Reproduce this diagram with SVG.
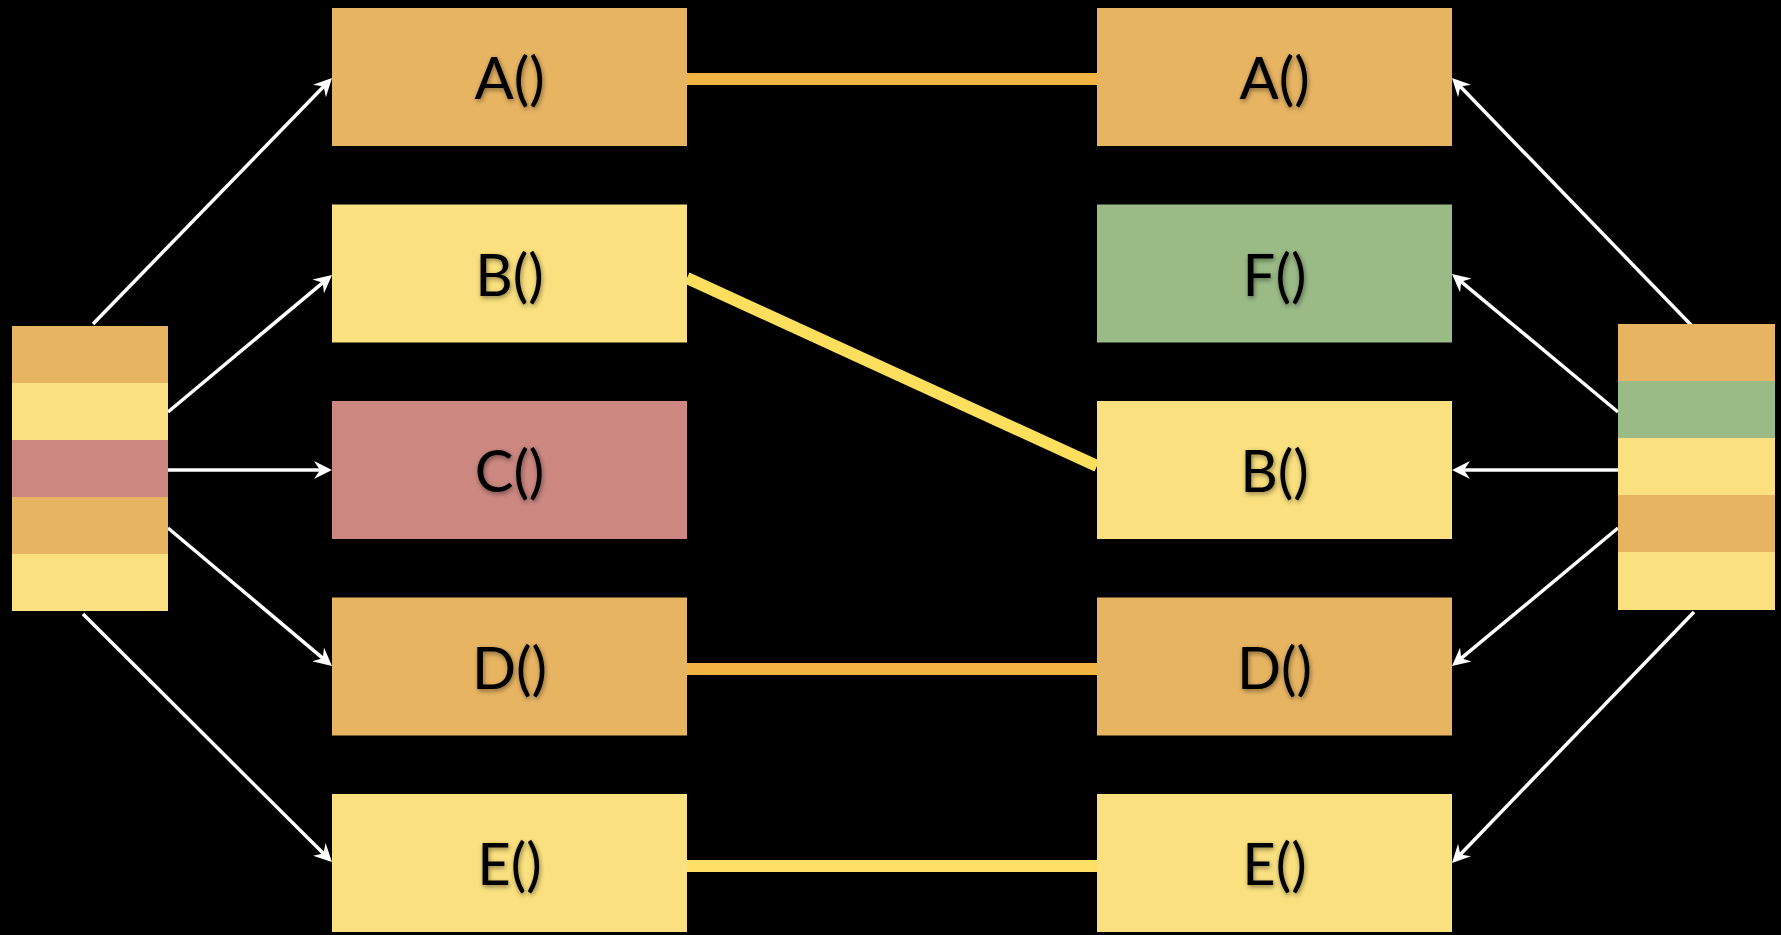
<svg xmlns="http://www.w3.org/2000/svg" width="1781" height="935" viewBox="0 0 1781 935">
  <style>
    .orange { fill: #E7B462; }
    .yellow { fill: #FAE07E; }
    .pink { fill: #CC8781; }
    .green { fill: #9ABA86; }
    .label { font-family: Lato, "Open Sans", "Liberation Sans", sans-serif; font-size: 58px; fill: #000; text-anchor: middle; filter: url(#glow); }
    .arrow { stroke: #FFFFFF; stroke-width: 3.5; fill: none; marker-end: url(#head); }
    .link { fill: none; stroke-width: 12; }
  </style>
  <defs>
    <marker id="head" markerUnits="userSpaceOnUse" markerWidth="18" markerHeight="18" refX="12" refY="9" orient="auto" viewBox="0 0 18 18">
      <path d="M0,0 L18,9 L0,18 L6,9 Z" fill="#FFFFFF"/>
    </marker>
    <filter id="glow" x="-20%" y="-20%" width="140%" height="140%">
      <feGaussianBlur in="SourceAlpha" stdDeviation="2.5" result="b"/>
      <feOffset in="b" dx="1" dy="2" result="o"/>
      <feComponentTransfer in="o" result="s"><feFuncA type="linear" slope="0.45"/></feComponentTransfer>
      <feMerge><feMergeNode in="s"/><feMergeNode in="SourceGraphic"/></feMerge>
    </filter>
  </defs>
  <rect width="1781" height="935" fill="#000000"/>

  <g id="connectors">
    <line class="link" x1="687" y1="79" x2="1097" y2="79" stroke="#F2B544"/>
    <line class="link" x1="687" y1="278" x2="1097" y2="466" stroke="#FDDF5E"/>
    <line class="link" x1="687" y1="669" x2="1097" y2="669" stroke="#F2B544"/>
    <line class="link" x1="687" y1="866" x2="1097" y2="866" stroke="#FFE066"/>
    <line class="arrow" x1="93" y1="324" x2="327.8" y2="82.3"/>
    <line class="arrow" x1="168" y1="412" x2="327.4" y2="278.8"/>
    <line class="arrow" x1="168" y1="470" x2="326" y2="470"/>
    <line class="arrow" x1="168" y1="528" x2="327.4" y2="662.1"/>
    <line class="arrow" x1="83" y1="614" x2="327.7" y2="857.8"/>
    <line class="arrow" x1="1694" y1="328" x2="1456.2" y2="82.3"/>
    <line class="arrow" x1="1618" y1="412" x2="1456.6" y2="277.8"/>
    <line class="arrow" x1="1618" y1="470" x2="1458" y2="470"/>
    <line class="arrow" x1="1618" y1="528" x2="1456.6" y2="662.2"/>
    <line class="arrow" x1="1694" y1="612" x2="1456.2" y2="858.7"/>
  </g>

  <g id="left-stack">
    <rect class="orange" x="12" y="326" width="156" height="57"/>
    <rect class="yellow" x="12" y="383" width="156" height="57"/>
    <rect class="pink" x="12" y="440" width="156" height="57"/>
    <rect class="orange" x="12" y="497" width="156" height="57"/>
    <rect class="yellow" x="12" y="554" width="156" height="57"/>
  </g>

  <g id="right-stack">
    <rect class="orange" x="1618" y="324" width="157" height="57"/>
    <rect class="green" x="1618" y="381" width="157" height="57"/>
    <rect class="yellow" x="1618" y="438" width="157" height="57"/>
    <rect class="orange" x="1618" y="495" width="157" height="57"/>
    <rect class="yellow" x="1618" y="552" width="157" height="58"/>
  </g>

  <g id="left-A"><rect class="orange" x="332" y="8" width="355" height="138"/><text class="label" x="509.5" y="99">A()</text></g>
  <g id="left-B"><rect class="yellow" x="332" y="204.5" width="355" height="138"/><text class="label" x="509.5" y="295.5">B()</text></g>
  <g id="left-C"><rect class="pink" x="332" y="401" width="355" height="138"/><text class="label" x="509.5" y="492">C()</text></g>
  <g id="left-D"><rect class="orange" x="332" y="597.5" width="355" height="138"/><text class="label" x="509.5" y="688.5">D()</text></g>
  <g id="left-E"><rect class="yellow" x="332" y="794" width="355" height="138"/><text class="label" x="509.5" y="885">E()</text></g>

  <g id="right-A"><rect class="orange" x="1097" y="8" width="355" height="138"/><text class="label" x="1274.5" y="99">A()</text></g>
  <g id="right-F"><rect class="green" x="1097" y="204.5" width="355" height="138"/><text class="label" x="1274.5" y="295.5">F()</text></g>
  <g id="right-B"><rect class="yellow" x="1097" y="401" width="355" height="138"/><text class="label" x="1274.5" y="492">B()</text></g>
  <g id="right-D"><rect class="orange" x="1097" y="597.5" width="355" height="138"/><text class="label" x="1274.5" y="688.5">D()</text></g>
  <g id="right-E"><rect class="yellow" x="1097" y="794" width="355" height="138"/><text class="label" x="1274.5" y="885">E()</text></g>
</svg>
